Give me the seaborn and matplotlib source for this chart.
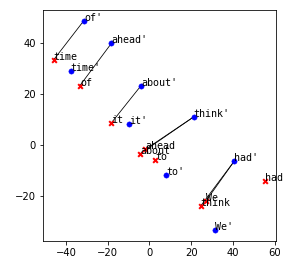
import matplotlib
matplotlib.use("Agg")
import matplotlib.pyplot as plt
import seaborn as sns
import pandas as pd

# source words (red x) and their coordinates
src_words = ["time", "of", "it", "ahead", "about", "to", "had", "We", "think"]
src_x = [-45.9, -33.3, -18.5, -2.0, -4.5, 2.7, 55.5, 27.0, 24.5]
src_y = [33.5, 23.4, 8.5, -1.7, -3.4, -5.8, -13.9, -22.0, -23.9]

# target words (blue dots)
tgt_words = ["of'", "ahead'", "time'", "about'", "it'", "think'", "to'", "had'", "We'"]
tgt_x = [-31.4, -18.2, -37.8, -4.0, -9.7, 21.2, 8.1, 40.5, 31.3]
tgt_y = [48.9, 40.0, 29.0, 23.4, 8.2, 11.1, -11.6, -6.4, -33.5]

# links source -> target
links = [("time", "of'"), ("of", "ahead'"), ("it", "about'"),
         ("ahead", "think'"), ("about", "think'"),
         ("We", "had'"), ("think", "had'")]

src = pd.DataFrame({"word": src_words, "x": src_x, "y": src_y})
tgt = pd.DataFrame({"word": tgt_words, "x": tgt_x, "y": tgt_y})

fig = plt.figure(figsize=(297/72, 272/72), dpi=72)
ax = fig.add_axes([0.145, 0.114, 0.784, 0.849])

for a, b in links:
    s = src[src.word == a].iloc[0]
    t = tgt[tgt.word == b].iloc[0]
    ax.plot([s.x, t.x], [s.y, t.y], color="black", lw=0.8, zorder=1)

sns.scatterplot(data=src, x="x", y="y", color="red", marker="x", s=22,
                linewidth=2, ax=ax, zorder=2)
sns.scatterplot(data=tgt, x="x", y="y", color="blue", s=28,
                edgecolor="blue", ax=ax, zorder=2)

for _, r in src.iterrows():
    ax.text(r.x, r.y, r.word, family="monospace", fontsize=10)
for _, r in tgt.iterrows():
    ax.text(r.x, r.y, r.word, family="monospace", fontsize=10)

ax.set_xlabel("")
ax.set_ylabel("")
fig.savefig("out.png", dpi=72)
